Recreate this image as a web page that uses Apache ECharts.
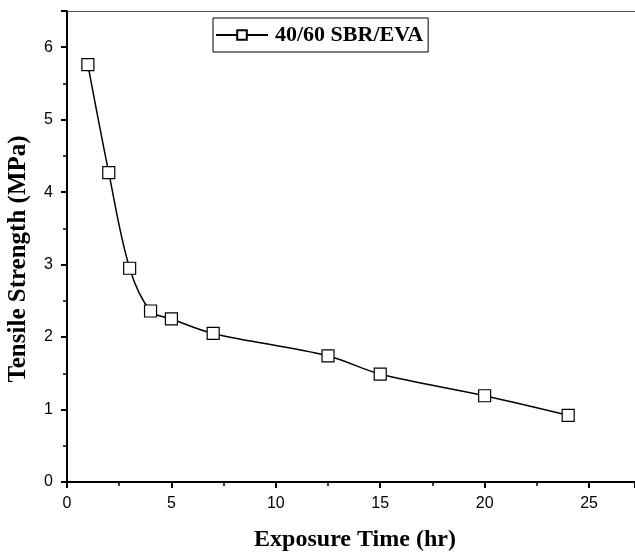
<!DOCTYPE html>
<html><head><meta charset="utf-8">
<script src="https://cdn.jsdelivr.net/npm/echarts@6/dist/echarts.min.js"></script>
<style>html,body{margin:0;padding:0;background:#fff}#c{width:635px;height:554px}</style>
</head><body><div id="c"></div>
<script>
const seriesName = '40/60 SBR/EVA';
const exposureTime = [1, 2, 3, 4, 5, 7, 12.5, 15, 20, 24];
const tensileStrength = [5.76, 4.27, 2.95, 2.36, 2.25, 2.05, 1.74, 1.49, 1.19, 0.92];
const xTitle = 'Exposure Time (hr)';
const yTitle = 'Tensile Strength (MPa)';

const chart = echarts.init(document.getElementById('c'));
const serif = '"Liberation Serif", "Times New Roman", serif';
const sans = '"Liberation Sans", Arial, sans-serif';
chart.setOption({
  animation: false,
  grid: { left: 67, top: 11, right: 0, bottom: 72, containLabel: false, outerBoundsMode: 'none' },
  legend: {
    left: 213, top: 18,
    data: [seriesName],
    itemWidth: 52, itemHeight: 12, itemGap: 0,
    borderColor: '#000', borderWidth: 1,
    padding: [6, 5, 6, 2],
    textStyle: { fontFamily: serif, fontWeight: 'bold', fontSize: 22, color: '#000', padding: [0, 0, 0, 2] }
  },
  xAxis: [{
    type: 'value', min: 0, max: 27.2, interval: 5,
    name: xTitle, nameLocation: 'middle', nameGap: 46,
    nameTextStyle: { fontFamily: serif, fontWeight: 'bold', fontSize: 24, color: '#000', padding: [0, 0, 0, 8] },
    axisLine: { lineStyle: { color: '#000', width: 2 } },
    axisTick: { length: 6, lineStyle: { color: '#000', width: 2 } },
    minorTick: { show: true, splitNumber: 2, length: 4, lineStyle: { color: '#000', width: 1.5 } },
    axisLabel: { fontFamily: sans, fontSize: 16, color: '#000', margin: 14, showMaxLabel: false },
    splitLine: { show: false }
  }, {
    type: 'value', position: 'top', min: 0, max: 27.2,
    axisLine: { show: true, lineStyle: { color: '#555', width: 1 } },
    axisTick: { show: false }, axisLabel: { show: false }, splitLine: { show: false }
  }],
  yAxis: {
    type: 'value', min: 0, max: 6.5, interval: 1,
    name: yTitle, nameLocation: 'middle', nameGap: 36,
    nameTextStyle: { fontFamily: serif, fontWeight: 'bold', fontSize: 25, color: '#000', padding: [0, 25, 0, 0] },
    axisLine: { show: true, lineStyle: { color: '#000', width: 2 } },
    axisTick: { show: true, length: 6, lineStyle: { color: '#000', width: 2 } },
    minorTick: { show: true, splitNumber: 2, length: 4, lineStyle: { color: '#000', width: 1.5 } },
    axisLabel: { fontFamily: sans, fontSize: 16, color: '#000', margin: 14, showMaxLabel: false },
    splitLine: { show: false }
  },
  series: [{
    name: seriesName, type: 'line',
    data: exposureTime.map((x, i) => [x, tensileStrength[i]]),
    smooth: 0.35,
    symbol: 'rect', symbolSize: 12,
    lineStyle: { color: '#000', width: 1.5 },
    itemStyle: { color: '#fff', borderColor: '#000', borderWidth: 1.2 }
  }]
});
</script></body></html>
